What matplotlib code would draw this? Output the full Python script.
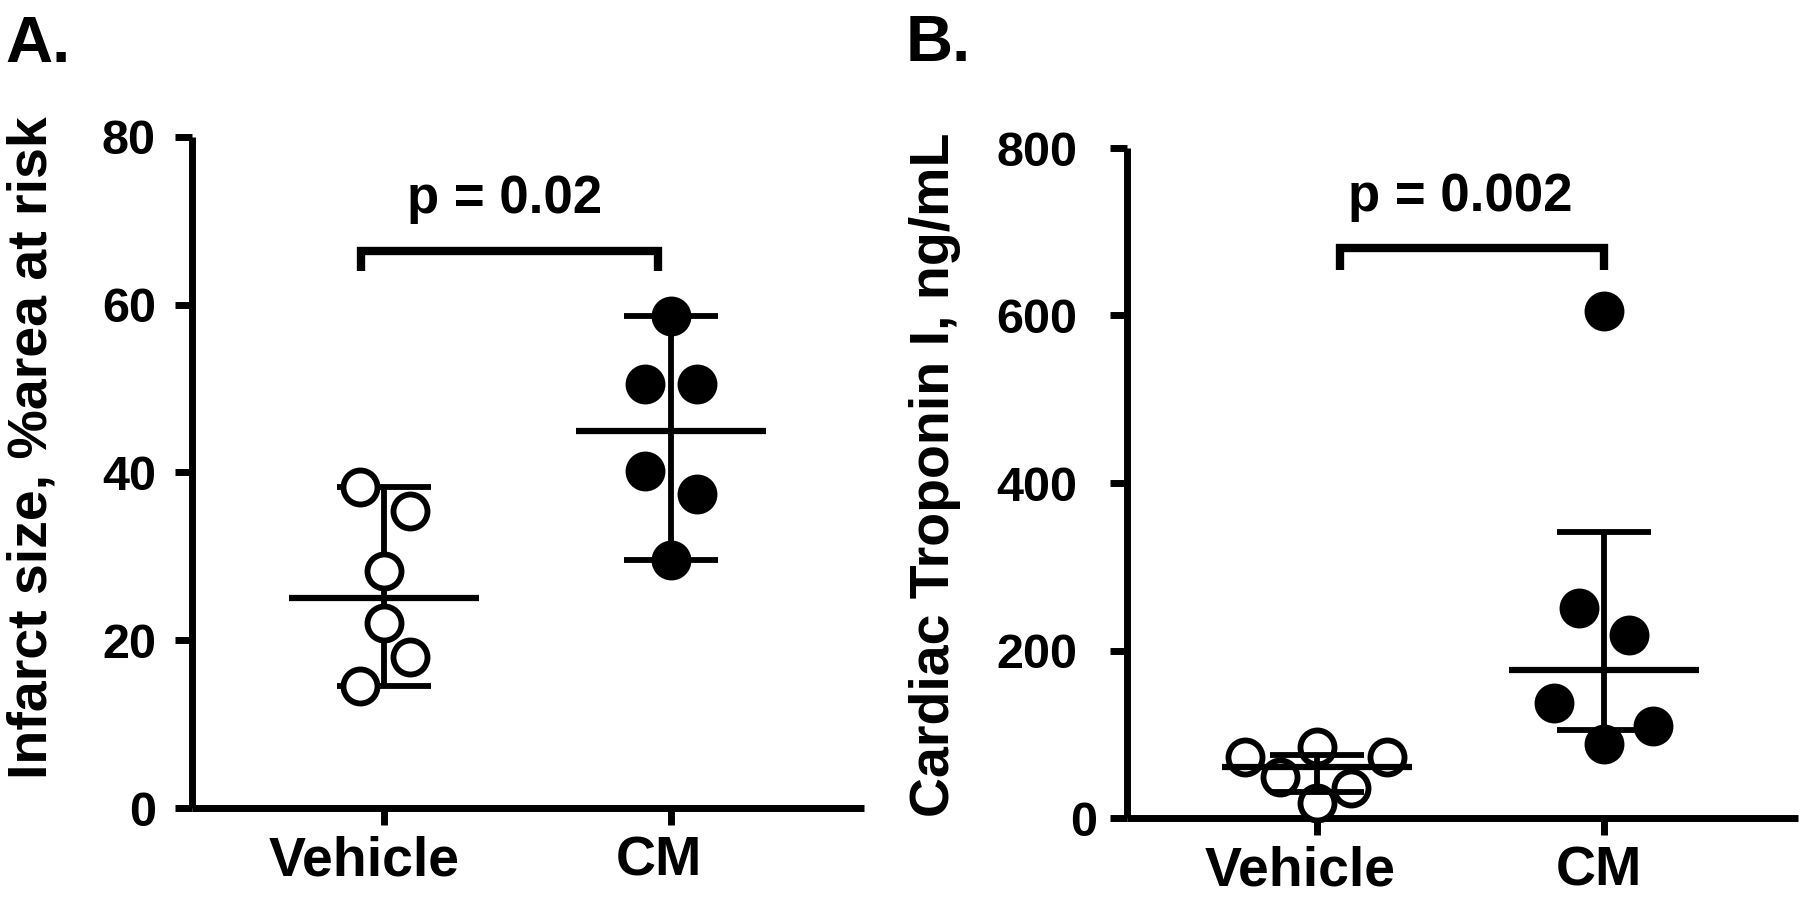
import matplotlib
matplotlib.use("Agg")
import matplotlib.pyplot as plt
import matplotlib.transforms as mtransforms
import numpy as np

plt.rcParams['font.family'] = ['Liberation Sans', 'DejaVu Sans']
plt.rcParams['font.weight'] = 'bold'

# ---------------- data ----------------
groups = ["Vehicle", "CM"]

# Panel A: infarct size (% area at risk)
a_vehicle = [38.3, 35.4, 28.2, 22.0, 18.0, 14.6]
a_vehicle_dx = [-0.085, 0.09, 0.0, 0.0, 0.09, -0.085]
a_cm = [58.7, 50.5, 50.5, 40.2, 37.4, 29.6]
a_cm_dx = [0.0, -0.092, 0.089, -0.092, 0.089, 0.0]
a_center = [25.0, 45.0]
a_err_low = [14.6, 29.6]
a_err_high = [38.3, 58.7]
a_yticks = [0, 20, 40, 60, 80]
a_ylabel = "Infarct size, %area at risk"
a_ptext = "p = 0.02"
a_bracket_x = [-0.08, 0.955]

# Panel B: cardiac troponin I (ng/mL)
b_vehicle = [72.4, 84.4, 72.4, 48.5, 35.4, 17.5]
b_vehicle_dx = [-0.25, 0.0, 0.245, -0.13, 0.12, 0.0]
b_cm = [605, 251, 219, 137, 110, 88]
b_cm_dx = [0.0, -0.087, 0.087, -0.174, 0.171, 0.0]
b_center = [60.8, 177]
b_err_low = [31, 105]
b_err_high = [75, 341]
b_yticks = [0, 200, 400, 600, 800]
b_ylabel = "Cardiac Troponin I, ng/mL"
b_ptext = "p = 0.002"
b_bracket_x = [0.08, 1.0]

W, H = 1800, 897
fig = plt.figure(figsize=(W / 100, H / 100), dpi=100)

def frac_rect(l, r, top, bot):
    return [l / W, (H - bot) / H, (r - l) / W, (bot - top) / H]

LW = 5.0
MS = 24.5
MEW = 4.2

def shift(label, dx_px, dy_px=0):
    label.set_transform(label.get_transform() +
                        mtransforms.ScaledTranslation(dx_px / 100, dy_px / 100, fig.dpi_scale_trans))

def panel(rect, xlim, ylim, yticks, vehicle, vdx, cm, cdx, center, lo, hi,
          brk_x, brk_y, brk_drop, ptext, ptext_x, ptext_y, markers_on_top):
    ax = fig.add_axes(rect)
    ax.set_xlim(*xlim)
    ax.set_ylim(*ylim)
    for s in ['top', 'right']:
        ax.spines[s].set_visible(False)
    for s in ['left', 'bottom']:
        ax.spines[s].set_linewidth(LW)
        ax.spines[s].set_capstyle('butt')
    ax.set_xticks([0, 1])
    ax.set_xticklabels(groups, fontsize=40, fontweight='bold')
    ax.set_yticks(yticks)
    ax.set_yticklabels([str(t) for t in yticks], fontsize=35, fontweight='bold')
    ax.tick_params(axis='both', width=LW, length=12, color='black')
    ax.tick_params(axis='y', pad=14)
    ax.tick_params(axis='x', pad=8)

    mz = 5 if markers_on_top else 3
    lz = 4
    xs_v = [0 + d for d in vdx]
    xs_c = [1 + d for d in cdx]
    ax.plot(xs_v, vehicle, 'o', ms=MS, mfc='white', mec='black', mew=MEW,
            zorder=mz, clip_on=False)
    ax.plot(xs_c, cm, 'o', ms=MS, mfc='black', mec='black', mew=MEW,
            zorder=mz, clip_on=False)
    for i in range(2):
        ax.vlines(i, lo[i], hi[i], color='black', lw=4.2, zorder=lz)
        ax.hlines([lo[i], hi[i]], i - 0.164, i + 0.164, color='black', lw=4.2, zorder=lz)
        ax.hlines(center[i], i - 0.331, i + 0.331, color='black', lw=4.5, zorder=lz)
    # significance bracket
    ax.plot([brk_x[0], brk_x[0], brk_x[1], brk_x[1]],
            [brk_drop, brk_y, brk_y, brk_drop], color='black',
            lw=6, solid_capstyle='butt', solid_joinstyle='miter', clip_on=False)
    ax.text(ptext_x, ptext_y, ptext, ha='center', va='baseline', fontsize=38,
            fontweight='bold')
    return ax

axA = panel(frac_rect(192, 864, 137, 808), (-0.669, 1.672), (0, 80), a_yticks,
            a_vehicle, a_vehicle_dx, a_cm, a_cm_dx, a_center, a_err_low, a_err_high,
            a_bracket_x, 66.4, 64.0, a_ptext, 0.42, 70.9, True)
axB = panel(frac_rect(1127, 1798, 148, 818), (-0.662, 1.676), (0, 800), b_yticks,
            b_vehicle, b_vehicle_dx, b_cm, b_cm_dx, b_center, b_err_low, b_err_high,
            b_bracket_x, 681, 654, b_ptext, 0.5, 725, False)
axB.tick_params(axis='y', pad=24)
# zero label in panel B sits further right
shift(axB.get_yticklabels()[0], 20)
# category labels sit slightly left of their ticks
xa = axA.get_xticklabels()
shift(xa[0], -20); shift(xa[1], -12)
xb = axB.get_xticklabels()
shift(xb[0], -17); shift(xb[1], -5)

fig.text(33 / W, 1 - 448 / H, a_ylabel, rotation=90, ha='center', va='center',
         fontsize=40, fontweight='bold')
fig.text(935 / W, 1 - 475 / H, b_ylabel, rotation=90, ha='center', va='center',
         fontsize=40, fontweight='bold')
fig.text(5 / W, 1 - 62 / H, "A.", ha='left', va='baseline', fontsize=47, fontweight='bold')
fig.text(906 / W, 1 - 61 / H, "B.", ha='left', va='baseline', fontsize=47, fontweight='bold')

fig.savefig("out.png", dpi=100, facecolor='white')
